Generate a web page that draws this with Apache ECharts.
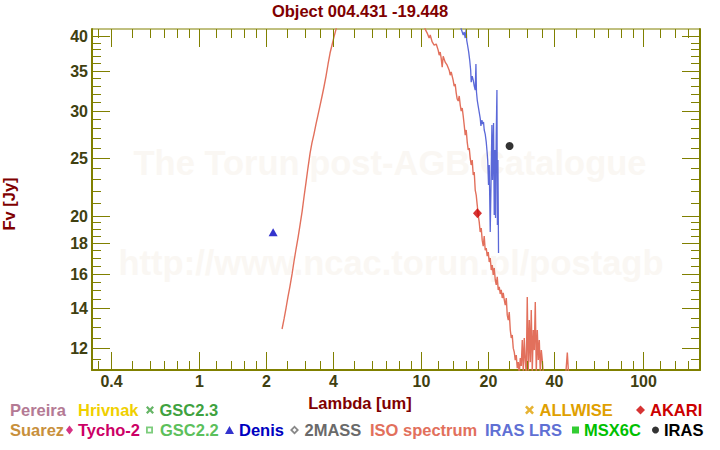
<!DOCTYPE html>
<html>
<head>
<meta charset="utf-8">
<script src="https://cdn.jsdelivr.net/npm/echarts@6/dist/echarts.min.js"></script>
<style>html,body{margin:0;padding:0;background:#fff}#chart{width:720px;height:450px}</style>
</head>
<body>
<div id="chart"></div>
<script>
// ---------- data ----------
const isoSpectrum = [
  [2.37,12.92],[2.42,13.43],[2.47,14.01],[2.52,14.62],[2.57,15.2],[2.63,15.98],[2.68,16.73],[2.74,17.59],
  [2.80,18.42],[2.86,19.37],[2.92,20.36],[2.98,21.58],[3.04,22.77],[3.10,24.04],[3.17,25.47],[3.23,26.47],
  [3.30,27.4],[3.37,28.48],[3.44,29.49],[3.51,30.53],[3.59,31.74],[3.66,32.86],[3.74,34.28],[3.82,35.91],
  [3.90,37.46],[3.98,38.64],[4.06,39.84],[4.15,41.09],[4.24,42.38],
  [10.35,41.74],[10.46,41.09],[10.68,40.46],[10.90,39.69],[11.02,40.15],[11.25,39.09],[11.48,38.63],[11.73,38.78],
  [11.97,37.88],[12.10,37.15],[12.22,37.6],[12.35,36.73],[12.48,35.48],[12.61,37.0],[12.87,36.17],[13.14,35.75],
  [13.42,35.06],[13.56,34.39],[13.70,34.82],[13.98,33.75],[14.13,32.97],[14.28,33.22],[14.43,32.13],[14.58,31.37],
  [14.74,31.13],[14.89,31.74],[15.05,30.65],[15.20,29.95],[15.36,30.3],[15.52,29.38],[15.68,28.38],[15.85,27.3],
  [16.01,27.84],[16.18,26.57],[16.35,25.77],[16.52,25.97],[16.69,24.98],[16.86,24.32],[17.04,24.79],[17.22,23.4],
  [17.40,23.67],[17.58,22.08],[17.76,21.66],[17.95,20.84],[18.13,20.05],[18.32,19.53],[18.51,18.78],[18.71,19.07],
  [18.90,18.2],[19.10,17.79],[19.30,18.49],[19.50,17.51],[19.71,17.65],[19.91,17.11],[20.12,17.38],[20.33,16.73],
  [20.54,16.99],[20.76,16.22],[20.97,16.53],[21.19,15.92],[21.41,16.35],[21.64,15.61],[21.86,15.32],[22.09,15.8],
  [22.32,15.02],[22.56,15.2],[22.79,14.79],[23.03,15.02],[23.27,14.56],[23.51,14.85],[23.76,14.45],[24.01,14.17],
  [24.26,14.56],[24.51,13.63],[24.77,13.37],[25.02,13.79],[25.29,12.87],[25.55,12.48],[25.81,12.62],[26.08,12.0],
  [26.36,11.82],[26.63,11.46],[26.91,11.68],[27.19,11.11],[27.47,11.37],[27.76,10.86],[28.05,11.55],[28.34,11.2],
  [28.64,12.38],[28.94,10.94],[29.24,12.48],[29.54,11.46],[29.85,10.86],[30.16,14.62],[30.48,11.0],[30.80,13.37],
  [31.12,11.37],[31.44,13.9],[31.77,10.94],[32.10,12.87],[32.44,11.91],[32.78,14.34],[33.12,10.94],[33.47,12.87],
  [33.82,11.46],[34.17,12.38],[34.53,10.94],[34.89,11.91],[35.25,11.46],[35.62,10.86],[35.99,10.41],
  [40.0,10.3],[44.6,10.4],[45.7,11.8],[46.6,10.4],[50.0,10.2]
];
const irasLrs = [
  [14.89,42.55],[15.20,41.09],[15.52,40.15],[15.68,40.62],[15.84,39.69],[16.01,41.09],[16.09,39.39],[16.26,38.49],
  [16.43,37.6],[16.60,36.46],[16.77,35.06],[16.86,33.48],[17.04,34.28],[17.22,33.75],[17.40,32.97],[17.58,32.47],
  [17.71,35.91],[17.81,32.23],[17.95,31.25],[18.13,30.53],[18.32,29.83],[18.51,29.15],[18.65,28.27],[18.84,28.93],
  [19.00,28.48],[19.16,28.71],[19.30,27.84],[19.50,27.4],[19.71,26.57],[19.85,25.77],[20.01,24.79],[20.18,22.51],
  [20.33,24.32],[20.54,18.78],[20.69,22.08],[20.90,28.38],[21.03,22.95],[21.26,28.6],[21.41,20.05],[21.57,25.77],
  [21.70,19.82],[21.86,27.3],[22.02,32.47],[22.13,19.3],[22.25,24.79],[22.39,17.32]
];
const denisPoints = [[2.16, 18.76]];
const akariPoints = [[17.99, 20.19]];
const irasPoints = [[25.1, 26.17]];

const xMajorTicks = [0.4, 1, 2, 4, 10, 20, 40, 100];
const xTickLabels = ['0.4', '1', '2', '4', '10', '20', '40', '100'];
const xMinorTicks = [0.35,0.5,0.6,0.7,0.8,0.9,1.2,1.4,1.6,1.8,2.5,3,3.5,5,6,7,8,9,12,14,16,18,25,30,35,50,60,70,80,90,120,140,160];
const yMajorTicks = [12, 14, 16, 18, 20, 25, 30, 35, 40];
const yTickLabels = ['12', '14', '16', '18', '20', '25', '30', '35', '40'];
const yMinorTicks = [11.5,12.5,13,13.5,14.5,15,15.5,16.5,17,17.5,18.5,19,19.5,21,22,23,24,26,27,28,29,31,32,33,34,36,37,38,39];

// ---------- style ----------
const X_MIN = 0.33, X_MAX = 181, Y_MIN = 11.03, Y_MAX = 41.1;
const AXIS_COLOR = '#808000';
const LABEL_COLOR = '#404010';
const NAME_COLOR = '#800000';
const FONT = '"Liberation Sans", Arial, sans-serif';
const ISO_COLOR = '#e2705c';
const LRS_COLOR = '#5a68d8';

const CROSS = 'path://M0,2L2,0L5,3L8,0L10,2L7,5L10,8L8,10L5,7L2,10L0,8L3,5Z';
const HOLLOW_SQ = 'path://M0,0L10,0L10,10L0,10Z M2.6,2.6L2.6,7.4L7.4,7.4L7.4,2.6Z';
const HOLLOW_DIA = 'path://M5,0L10,5L5,10L0,5Z M5,2.8L2.8,5L5,7.2L7.2,5Z';

const legendItems = [
  {name:'Pereira', color:'#b47a94', icon:'none', x:5, row:0},
  {name:'Hrivnak', color:'#f0d000', icon:'none', x:73, row:0},
  {name:'GSC2.3', color:'#3fa23f', icon:CROSS, x:146, w:9, h:8, row:0},
  {name:'ALLWISE', color:'#e0a000', icon:CROSS, x:525, w:10, h:9, row:0},
  {name:'AKARI', color:'#cc0000', icon:'diamond', x:636, w:9, h:9, row:0},
  {name:'Suarez', color:'#c8903c', icon:'none', x:5, row:1},
  {name:'Tycho-2', color:'#cc0066', icon:'diamond', x:66, w:7, h:9, row:1},
  {name:'GSC2.2', color:'#5cc05c', icon:HOLLOW_SQ, x:146, w:11, h:7, row:1},
  {name:'Denis', color:'#0000c0', icon:'triangle', x:225, w:9, h:8, row:1},
  {name:'2MASS', color:'#6a6a6a', icon:HOLLOW_DIA, x:290, w:10, h:9, row:1},
  {name:'ISO spectrum', color:ISO_COLOR, icon:'none', x:365, row:1},
  {name:'IRAS LRS', color:'#6070d4', icon:'none', x:480, row:1},
  {name:'MSX6C', color:'#00c000', icon:'rect', x:572, w:7, h:7, row:1},
  {name:'IRAS', color:'#000000', icon:'circle', x:652, w:7, h:7, row:1}
];
const rowTop = [400, 420];

function renderXTick(params, api) {
  const v = api.value(0), major = api.value(2) === 1, li = api.value(3);
  const cs = params.coordSys;
  const x = Math.round(api.coord([v, Y_MIN])[0]) + 0.5;
  const top = cs.y, bot = cs.y + cs.height;
  const len = major ? 18 : 9;
  const style = {stroke: AXIS_COLOR, lineWidth: 1};
  const children = [
    {type:'line', shape:{x1:x, y1:bot, x2:x, y2:bot - len}, style},
    {type:'line', shape:{x1:x, y1:top, x2:x, y2:top + len}, style}
  ];
  if (major) {
    children.push({type:'text', x: x, y: bot + 11, style:{text: xTickLabels[li], align:'center', verticalAlign:'middle', fill: LABEL_COLOR, fontSize: 16, fontWeight:'bold', fontFamily: FONT}});
  }
  return {type:'group', children};
}
function renderYTick(params, api) {
  const v = api.value(1), major = api.value(2) === 1, li = api.value(3);
  const cs = params.coordSys;
  const y = Math.round(api.coord([X_MIN, v])[1]) + 0.5;
  const left = cs.x, right = cs.x + cs.width;
  const len = major ? 18 : 9;
  const style = {stroke: AXIS_COLOR, lineWidth: 1};
  const children = [
    {type:'line', shape:{x1:left, y1:y, x2:left + len, y2:y}, style},
    {type:'line', shape:{x1:right, y1:y, x2:right - len, y2:y}, style}
  ];
  if (major) {
    children.push({type:'text', x: left - 4, y: y, style:{text: yTickLabels[li], align:'right', verticalAlign:'middle', fill: LABEL_COLOR, fontSize: 16, fontWeight:'bold', fontFamily: FONT}});
  }
  return {type:'group', children};
}

const xTickData = xMajorTicks.map((v, i) => [v, Y_MIN, 1, i]).concat(xMinorTicks.map(v => [v, Y_MIN, 0, -1]));
const yTickData = yMajorTicks.map((v, i) => [X_MIN, v, 1, i]).concat(yMinorTicks.map(v => [X_MIN, v, 0, -1]));

const emptySeries = ['Pereira','Hrivnak','GSC2.3','ALLWISE','Suarez','Tycho-2','GSC2.2','2MASS','MSX6C'].map(n => {
  const it = legendItems.find(l => l.name === n);
  return {name: n, type:'scatter', data: [], itemStyle:{color: it.color}};
});

const axisCommon = {
  type: 'log', logBase: 10,
  axisTick: {show:false}, axisLabel: {show:false}, splitLine: {show:false}, minorTick:{show:false},
  axisLine: {show:true, onZero:false, lineStyle:{color: AXIS_COLOR, width: 2}}
};

const option = {
  animation: false,
  backgroundColor: '#ffffff',
  title: {
    text: 'Object 004.431 -19.448', left: 'center', top: 2, padding: 0,
    textStyle: {color: NAME_COLOR, fontSize: 16.5, fontWeight: 'bold', fontFamily: FONT}
  },
  grid: {left: 92, right: 20, top: 29, bottom: 80, show: true, borderColor: AXIS_COLOR, borderWidth: 1,
         containLabel: false, outerBoundsMode: 'none'},
  xAxis: Object.assign({}, axisCommon, {
    min: X_MIN, max: X_MAX,
    name: 'Lambda [um]', nameLocation: 'middle', nameGap: 24,
    nameTextStyle: {color: NAME_COLOR, fontSize: 16.5, fontWeight: 'bold', fontFamily: FONT, padding: [0, 72, 0, 0]}
  }),
  yAxis: [
    Object.assign({}, axisCommon, {
      min: Y_MIN, max: Y_MAX, position: 'left',
      name: 'Fv [Jy]', nameLocation: 'middle', nameGap: 75,
      nameTextStyle: {color: NAME_COLOR, fontSize: 16.5, fontWeight: 'bold', fontFamily: FONT, padding: [0, 9, 0, 0]}
    }),
    Object.assign({}, axisCommon, {min: Y_MIN, max: Y_MAX, position: 'right'})
  ],
  legend: legendItems.map(it => ({
    show: true, left: it.x, top: rowTop[it.row], padding: 0, orient: 'horizontal',
    itemWidth: it.w || 0, itemHeight: it.h || 8, itemGap: 0, selectedMode: false,
    data: [{name: it.name, icon: it.icon, textStyle: {color: it.color}}],
    textStyle: {color: it.color, fontSize: 16.5, fontWeight: 'bold', fontFamily: FONT, lineHeight: 20}
  })),
  graphic: [
    {type:'text', x: 390, y: 163, z: -10, silent: true,
     style:{text:'The Torun post-AGB Catalogue', align:'center', verticalAlign:'middle', fill:'#faf7f3', fontSize: 34.5, fontWeight:'bold', fontFamily: FONT}},
    {type:'text', x: 391, y: 263, z: -10, silent: true,
     style:{text:'http://www.ncac.torun.pl/postagb', align:'center', verticalAlign:'middle', fill:'#faf7f3', fontSize: 34.5, fontWeight:'bold', fontFamily: FONT}}
  ],
  series: [
    {name:'ISO spectrum', type:'line', data: isoSpectrum, showSymbol:false, symbol:'none', smooth:false, clip:true,
     lineStyle:{color: ISO_COLOR, width: 1.4}, itemStyle:{color: ISO_COLOR}, z: 3},
    {name:'IRAS LRS', type:'line', data: irasLrs, showSymbol:false, symbol:'none', smooth:false, clip:true,
     lineStyle:{color: LRS_COLOR, width: 1.3}, itemStyle:{color: LRS_COLOR}, z: 3},
    {name:'Denis', type:'scatter', data: denisPoints, symbol:'triangle', symbolSize:[9, 8], itemStyle:{color:'#0000c0'}, z: 4},
    {name:'AKARI', type:'scatter', data: akariPoints, symbol:'diamond', symbolSize:[9, 10], itemStyle:{color:'#cc0000'}, z: 4},
    {name:'IRAS', type:'scatter', data: irasPoints, symbol:'circle', symbolSize: 8, itemStyle:{color:'#000000'}, z: 4},
    {name:'xticks', type:'custom', coordinateSystem:'cartesian2d', clip:false, silent:true, z: 5,
     data: xTickData, encode:{x:0, y:1}, renderItem: renderXTick},
    {name:'yticks', type:'custom', coordinateSystem:'cartesian2d', clip:false, silent:true, z: 5,
     data: yTickData, encode:{x:0, y:1}, renderItem: renderYTick}
  ].concat(emptySeries)
};

const chart = echarts.init(document.getElementById('chart'), null, {renderer: 'svg', width: 720, height: 450});
chart.setOption(option);
</script>
</body>
</html>
